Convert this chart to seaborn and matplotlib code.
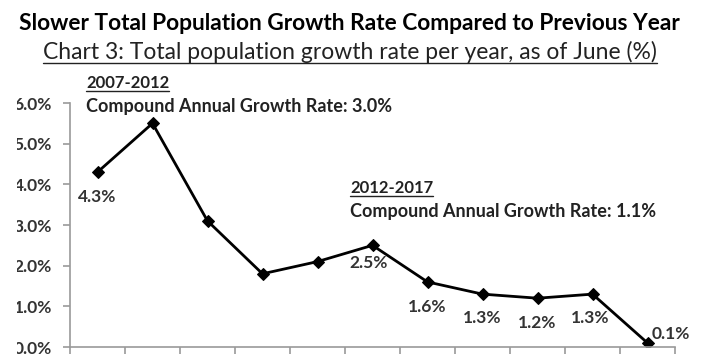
import matplotlib
matplotlib.use("Agg")
import matplotlib.pyplot as plt
import seaborn as sns
import pandas as pd
from matplotlib.lines import Line2D
from matplotlib.patches import Rectangle

years = ["2007", "2008", "2009", "2010", "2011", "2012", "2013", "2014", "2015", "2016", "2017"]
growth = [4.3, 5.5, 3.1, 1.8, 2.1, 2.5, 1.6, 1.3, 1.2, 1.3, 0.1]
labelled_years = ["2007", "2012", "2013", "2014", "2015", "2016", "2017"]
yticks = [0, 1, 2, 3, 4, 5, 6]
title = "Slower Total Population Growth Rate Compared to Previous Year"
subtitle = "Chart 3: Total population growth rate per year, as of June (%)"
period1 = "2007-2012"
cagr1 = "Compound Annual Growth Rate: 3.0%"
period2 = "2012-2017"
cagr2 = "Compound Annual Growth Rate: 1.1%"

sns.set_theme(style="white")
plt.rcParams['font.family'] = ['Lato', 'DejaVu Sans']

W, H = 703, 360
fig = plt.figure(figsize=(W / 100, H / 100), dpi=100)
ax = fig.add_axes([70 / W, 1 - 347 / H, 605 / W, 244 / H])

df = pd.DataFrame({"year": years, "growth": growth})
df["pos"] = range(len(df))
sns.lineplot(data=df, x="pos", y="growth", ax=ax, color="black", lw=2.0,
             marker="D", markersize=6, markeredgecolor="black", markerfacecolor="black")

ax.set_xlim(-0.5, len(years) - 0.5)
ax.set_ylim(0, 6)
ax.set_yticks(yticks)
ax.set_yticklabels([f"{v:.1f}%" for v in yticks], fontsize=12.5, fontweight="bold", color="#333333")
ax.set_xticks([i - 0.5 for i in range(len(years) + 1)])
ax.set_xticklabels([])
ax.set_xlabel("")
ax.set_ylabel("")
for s in ["top", "right"]:
    ax.spines[s].set_visible(False)
for s in ["left", "bottom"]:
    ax.spines[s].set_color("#9a9a9a")
    ax.spines[s].set_linewidth(1.2)
ax.tick_params(axis="y", which="major", direction="out", length=5, width=1.2, color="#9a9a9a", pad=8, left=True)
ax.tick_params(axis="x", which="major", direction="out", length=5, width=1.2, color="#9a9a9a", bottom=True)

# data labels: offsets in points
offsets = {"2007": (0, -18), "2012": (-3, -12.5), "2013": (0, -18), "2014": (0, -17),
           "2015": (0, -18), "2016": (-1.5, -17), "2017": (16.5, 6.5)}
for _, r in df.iterrows():
    if r["year"] in labelled_years:
        dx, dy = offsets[r["year"]]
        ax.annotate(f"{r['growth']:.1f}%", (r["pos"], r["growth"]), xytext=(dx, dy),
                    textcoords="offset points", ha="center", va="center",
                    fontsize=12.5, fontweight="bold", color="#333333")

# the reference image is cropped at the left, clipping the first digit of the y labels
fig.add_artist(Rectangle((0, 0), 17 / W, 1 - 90 / H, transform=fig.transFigure,
                         facecolor="white", edgecolor="none", zorder=10))

renderer = fig.canvas.get_renderer()


def ptext(x, y, s, width=None, size=12, weight="normal", ha="left", underline=False, color="black"):
    t = fig.text(x / W, 1 - y / H, s, ha=ha, va="center", fontsize=size, fontweight=weight, color=color)
    if width is not None:
        bb = t.get_window_extent(renderer)
        t.set_fontsize(size * width / bb.width)
    if underline:
        bb = t.get_window_extent(renderer)
        yline = bb.y0 + 0.5
        fig.add_artist(Line2D([bb.x0 / W, bb.x1 / W], [yline / H, yline / H],
                              transform=fig.transFigure, color=color, lw=1.0))
    return t


ptext(349, 24, title, width=668, size=14, weight="bold", ha="center")
ptext(350, 52, subtitle, width=610, size=13, ha="center", underline=True, color="#222222")
ptext(86, 83, period1, width=84, size=11, weight="bold", underline=True, color="#222222")
ptext(86, 106, cagr1, width=305, size=11, weight="bold", color="#222222")
ptext(350, 188, period2, width=84, size=11, weight="bold", underline=True, color="#222222")
ptext(350, 212, cagr2, width=305, size=11, weight="bold", color="#222222")

fig.savefig("out.png", dpi=100)
